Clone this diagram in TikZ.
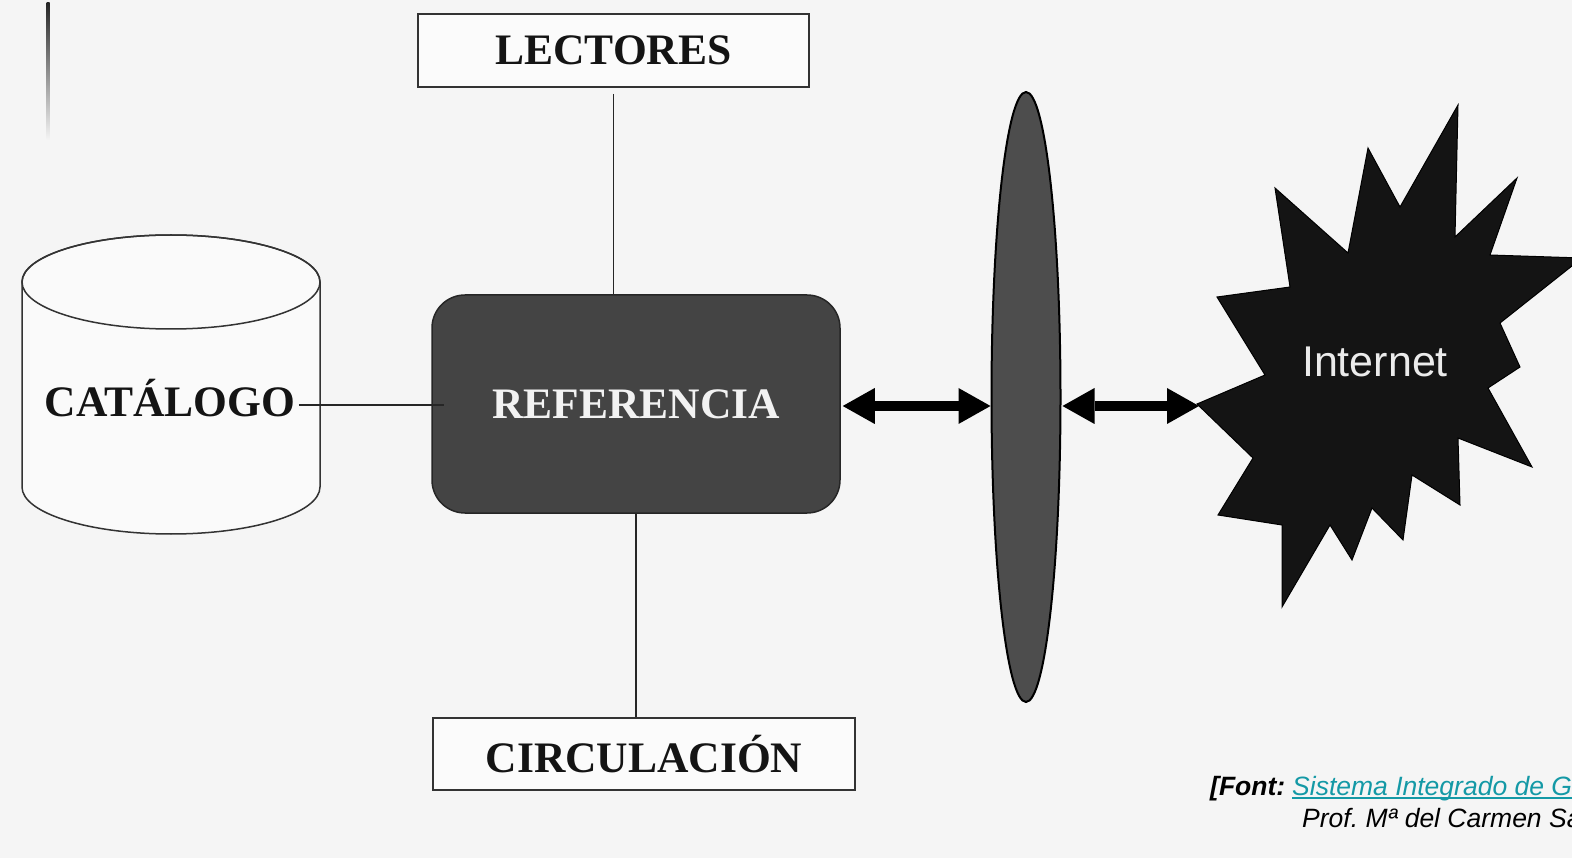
\documentclass[tikz,border=0pt]{standalone}
\usepackage{fontspec}
\setmainfont{Liberation Serif}
\newfontfamily\arialf{Liberation Sans}
\usetikzlibrary{arrows.meta,shapes.geometric}
\definecolor{bgc}{HTML}{F5F5F5}
\definecolor{refc}{HTML}{444444}
\definecolor{ellc}{HTML}{4D4D4D}
\definecolor{linkc}{HTML}{1499A6}
\definecolor{starc}{HTML}{141414}
\tikzset{
  lbl/.style={font=\fontsize{43.5}{48}\selectfont\bfseries, text=black!92},
  plainbox/.style={draw=black!80, line width=1.8pt, fill=white!60!bgc, inner sep=0pt},
  conn/.style={draw=black!85, line width=1.5pt},
  dblarrow/.style={line width=10pt, black,
    {Triangle[length=32pt,width=36pt,line width=0pt]}-{Triangle[length=32pt,width=36pt,line width=0pt]}},
  srcfont/.style={anchor=base west, inner sep=0pt, font=\arialf\fontsize{26.5}{30}\selectfont\itshape},
}
\begin{document}
\begin{tikzpicture}[x=1pt,y=1pt]
\useasboundingbox (0,0) rectangle (1572,-858);
\clip (0,0) rectangle (1572,-858);
\fill[bgc] (0,0) rectangle (1572,-858);
% faint scan mark at top left
\shade[top color=black!85, bottom color=bgc] (46.5,-3) rectangle (49.5,-140);

% cylinder (CATALOGO)
\draw[black!80, line width=1.5pt, fill=white!50!bgc]
  (22,-282) -- (22,-487) arc[start angle=180, end angle=360, x radius=149, y radius=47]
  -- (320,-282) arc[start angle=0, end angle=180, x radius=149, y radius=47] -- cycle;
\draw[black!80, line width=1.5pt] (171,-282) ellipse[x radius=149, y radius=47];
\node[lbl, anchor=base] (cat) at (170,-417) {CATÁLOGO};

% boxes
\node[plainbox, minimum width=391pt, minimum height=73pt, lbl] (lect) at (613.5,-50.5) {LECTORES};
\node[plainbox, minimum width=422pt, minimum height=72pt, lbl] (circ) at (644,-754) {CIRCULACIÓN};
\node[draw=black!85, line width=1.5pt, fill=refc, rounded corners=33pt,
      minimum width=408pt, minimum height=218pt, lbl, text=white!95!black] (ref) at (636,-404) {REFERENCIA};

% ellipse (gateway)
\node[ellipse, draw=black, line width=2pt, fill=ellc, minimum width=69pt, minimum height=610pt, inner sep=0pt] (gate) at (1026,-397) {};

% Internet starburst
\fill[starc, draw=black, line width=1pt]
  (1458,-105) -- (1455,-237) -- (1517,-178) -- (1490,-255) -- (1582,-258) --
  (1500,-323) -- (1520,-367) -- (1488,-388) -- (1532,-467) -- (1458,-438) --
  (1460,-505) -- (1412,-475) -- (1403,-540) -- (1372,-508) -- (1352,-560) --
  (1330,-525) -- (1282,-607) -- (1282,-525) -- (1218,-515) -- (1253,-458) --
  (1197,-404) -- (1265,-375) -- (1217,-297) -- (1290,-287) -- (1275,-188) --
  (1348,-253) -- (1368,-148) -- (1400,-207) -- cycle;
\coordinate (netL) at (1199,-406);
\node[font=\arialf\fontsize{43}{48}\selectfont, text=white!92!black, anchor=base] (inet) at (1375,-377) {Internet};

% connectors
\draw[conn] ([yshift=-6pt]lect.south) -- (lect.south |- ref.north);
\draw[conn] (ref.south) -- (ref.south |- circ.north);
\draw[conn] (cat.east |- 0,-405) -- ([xshift=13pt]ref.west |- 0,-405);
\draw[dblarrow] ([xshift=2pt]ref.east |- 0,-406) -- (gate.west |- 0,-406);
\draw[dblarrow] ([xshift=1pt]gate.east |- netL) -- (netL);

% source note
\node[srcfont, font=\arialf\fontsize{26.5}{30}\selectfont\bfseries\itshape] (srcl) at (1210,-795) {[Font:};
\node[srcfont, text=linkc] (link) at (1292,-795) {Sistema Integrado de G};
\draw[linkc, line width=2pt] ([yshift=-3pt]link.base west) -- ([yshift=-3pt]link.base east);
\node[srcfont] (prof) at (1302,-827) {Prof.\ Mª del Carmen Sa};
\end{tikzpicture}
\end{document}
